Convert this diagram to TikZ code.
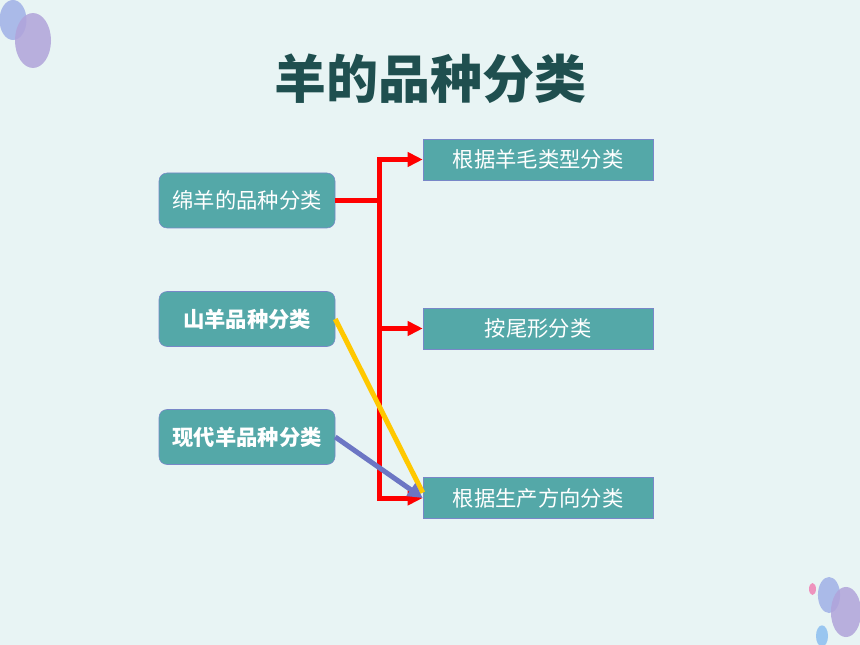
\documentclass[tikz,border=0pt]{standalone}
\usepackage{fontspec}
\setmainfont{Noto Sans CJK SC}
\usetikzlibrary{arrows.meta}

\definecolor{bgcyan}{RGB}{232,244,244}
\definecolor{boxteal}{RGB}{84,168,168}
\definecolor{boxedge}{RGB}{120,135,200}
\definecolor{titlegreen}{RGB}{31,79,79}
\definecolor{linegold}{RGB}{255,200,0}
\definecolor{lineblue}{RGB}{108,118,196}
\definecolor{dotblue}{RGB}{160,176,230}
\definecolor{dotpurple}{RGB}{176,163,218}
\definecolor{dotpink}{RGB}{240,130,180}
\definecolor{dotsky}{RGB}{140,190,240}

\begin{document}
\begin{tikzpicture}[x=0.75pt,y=-0.75pt,
    leftbox/.style={draw=boxedge,fill=boxteal,text=white,rounded corners=6pt,
      minimum width=132pt,minimum height=41.25pt,font=\fontsize{16}{18}\selectfont},
    rightbox/.style={draw=boxedge,fill=boxteal,text=white,
      minimum width=172.5pt,minimum height=30.75pt,font=\fontsize{16}{18}\selectfont},
    redline/.style={draw=red,line width=3.75pt},
    redarrow/.style={redline,-{Triangle[length=11.25pt,width=10.5pt]}}]
  \fill[bgcyan] (0,0) rectangle (860,645);
  \useasboundingbox (0,0) rectangle (860,645);
  % corner dots
  \begin{scope}[opacity=0.85]
    \fill[dotblue] (13,20) ellipse (10.1pt and 15pt);
    \fill[dotpurple] (33,40.5) ellipse (13.5pt and 20.6pt);
    \fill[dotpink] (812.5,589) ellipse (2.6pt and 4.5pt);
    \fill[dotblue] (829,595) ellipse (8.3pt and 13.5pt);
    \fill[dotpurple] (846,612) ellipse (11.3pt and 18.8pt);
    \fill[dotsky] (822,636) ellipse (4.5pt and 8pt);
  \end{scope}
  % title
  \node[text=titlegreen,font=\fontsize{39}{44}\selectfont\bfseries] (title) at (430,79) {羊的品种分类};
  % boxes
  \node[leftbox] (sheep) at (247,200.5) {绵羊的品种分类};
  \node[leftbox,font=\fontsize{16}{18}\selectfont\bfseries] (goat) at (247,319) {山羊品种分类};
  \node[leftbox,font=\fontsize{16}{18}\selectfont\bfseries] (modern) at (247,437) {现代羊品种分类};
  \node[rightbox] (wool) at (538,159.5) {根据羊毛类型分类};
  \node[rightbox] (tail) at (538,328.5) {按尾形分类};
  \node[rightbox] (prod) at (538,498) {根据生产方向分类};
  % connectors
  \coordinate (join) at (379,200.5);
  \draw[redline] (sheep.east) -- ([xshift=2.5pt]join);
  \draw[redarrow] (join) |- (wool.west);
  \draw[redarrow] (join) |- (prod.west);
  \draw[redarrow] (join |- tail.west) -- (tail.west);
  \draw[draw=linegold,line width=3.75pt] (goat.east) -- ([yshift=4pt]prod.west);
  \draw[draw=lineblue,line width=3.75pt,-{Triangle[length=11pt,width=11pt]}] (modern.east) -- (prod.west);
\end{tikzpicture}
\end{document}
